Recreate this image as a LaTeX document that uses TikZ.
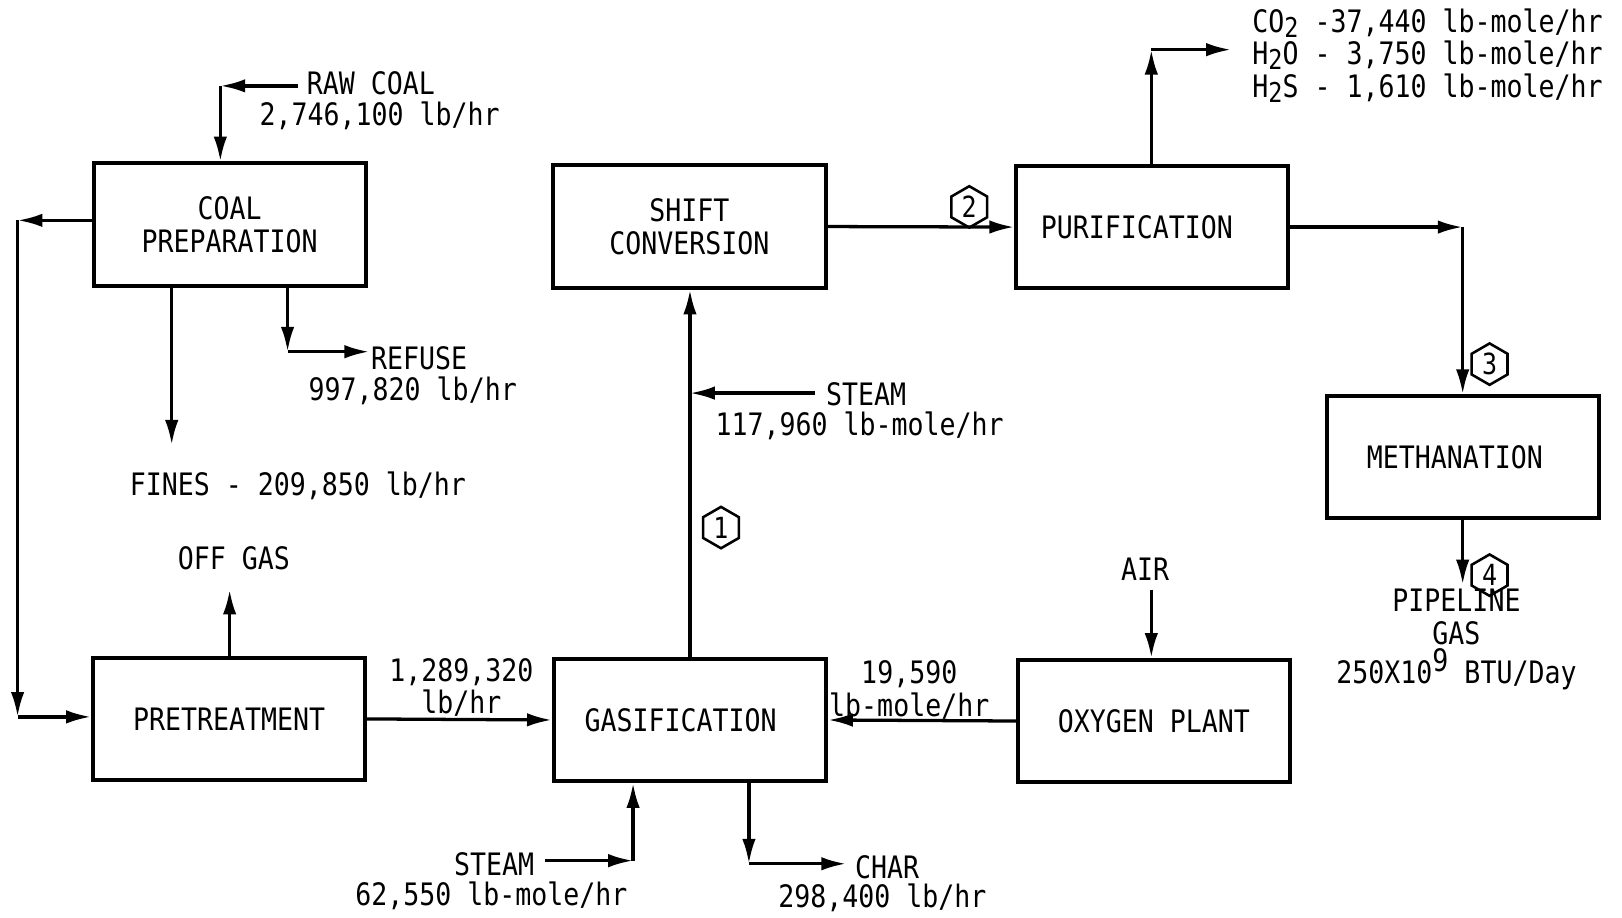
\documentclass[tikz,border=0pt]{standalone}
\usepackage{fontspec}
\usepackage{tikz}
\usetikzlibrary{arrows.meta, positioning, shapes.geometric}
\newfontfamily\lettering{DejaVu Sans Mono}[FakeStretch=0.86]
\newcommand{\lowtwo}{\raisebox{-0.3ex}{\fontsize{7.5}{8}\selectfont 2}}
\newcommand{\upnine}{\raisebox{0.7ex}{9}}

\begin{document}
\begin{tikzpicture}[
    x=0.01cm, y=-0.01cm,
    unit/.style={draw, line width=1.1pt, minimum width=2.63cm, minimum height=1.18cm, inner sep=0pt, align=center, font=\lettering\fontsize{8.5}{9}\selectfont},
    flow/.style={-{Latex[length=2.4mm, width=1.3mm]}, line width=0.9pt},
    streamno/.style={draw, line width=0.7pt, regular polygon, regular polygon sides=6, shape border rotate=30, minimum size=0.4cm, inner sep=0pt, font=\lettering\fontsize{8}{9}\selectfont},
    tag/.style={inner sep=0pt, align=center, font=\lettering\fontsize{8.5}{9}\selectfont},
]
\useasboundingbox (0,0) rectangle (1568,887);

% Process units
\node[unit] (prep)   at (222,217)    {COAL\\PREPARATION};
\node[unit] (shift)  at (666.5,219)  {SHIFT\\CONVERSION};
\node[unit] (purif)  at (1114,219.5) {PURIFICATION\hspace*{0.3cm}};
\node[unit] (meth)   at (1414,442)   {METHANATION\hspace*{0.15cm}};
\node[unit] (pret)   at (221.5,695)  {PRETREATMENT};
\node[unit] (gasif)  at (667,696)    {GASIFICATION\hspace*{0.18cm}};
\node[unit] (oxy)    at (1115.5,697) {OXYGEN PLANT};

% Bend and end points
\coordinate (rawS)  at (288,83);
\coordinate (rawK)  at (213,83);
\coordinate (loopT) at (17,213);
\coordinate (loopB) at (17,693);
\coordinate (finE)  at (166,430);
\coordinate (refK)  at (278,340);
\coordinate (refE)  at (357,340);
\coordinate (offE)  at (222,570);
\coordinate (stmS)  at (788,380);
\coordinate (stbS)  at (527,832);
\coordinate (stbK)  at (612,832);
\coordinate (chrK)  at (724,835);
\coordinate (chrE)  at (818,835);
\coordinate (airS)  at (1113,570);
\coordinate (ventK) at (1113,48);
\coordinate (ventE) at (1190,48);
\coordinate (purK)  at (1414,219.5);
\coordinate (pipeE) at (1414,565);

% Coal preparation
\draw[flow] (rawS) -- (rawK);
\draw[flow] (rawK) -- (rawK |- prep.north);
\draw[flow] (prep.west |- loopT) -- (loopT);
\draw[flow] (loopT) -- (loopB);
\draw[flow] (loopB) -- (loopB -| pret.west);
\draw[flow] (prep.south -| finE) -- (finE);
\draw[flow] (prep.south -| refK) -- (refK);
\draw[flow] (refK) -- (refE);

\node[tag, anchor=west] (rawl) at (296,80) {RAW COAL};
\node[tag] (rawr) at (367,112) {2,746,100 lb/hr};
\node[tag, anchor=west] (refl) at (358,346) {REFUSE};
\node[tag] (refr) at (399,378) {997,820 lb/hr};
\node[tag] (finl) at (288,470) {FINES - 209,850 lb/hr};

% Pretreatment and gasification
\draw[flow] (pret.north -| offE) -- (offE);
\node[tag] (offl) at (226,540) {OFF GAS};
\draw[flow] (pret.east) -- (gasif.west);
\node[tag] (pretr) at (446,664.5) {1,289,320\\lb/hr};
\draw[flow] (oxy.west) -- (gasif.east);
\node[tag] (oxyr) at (879,667) {19,590\\lb-mole/hr};
\draw[flow] (airS) -- (airS |- oxy.north);
\node[tag] (airl) at (1107,550) {AIR};
\draw[flow] (stbS) -- (stbK);
\draw[flow] (stbK) -- (stbK |- gasif.south);
\node[tag, anchor=east] (stbl) at (517,835) {STEAM};
\node[tag] (stbr) at (475,866) {62,550 lb-mole/hr};
\draw[flow] (gasif.south -| chrK) -- (chrK);
\draw[flow] (chrK) -- (chrE);
\node[tag, anchor=west] (chrl) at (826,838) {CHAR};
\node[tag] (chrr) at (853,868) {298,400 lb/hr};

% Shift, purification, methanation
\draw[flow] (gasif.north) -- (gasif.north |- shift.south);
\node[streamno] (s1) at (697,510) {1};
\draw[flow] (stmS) -- (stmS -| gasif.north);
\node[tag, anchor=west] (stml) at (798,381) {STEAM};
\node[tag] (stmr) at (831,412) {117,960 lb-mole/hr};
\draw[flow] (shift.east) -- (purif.west);
\node[streamno] (s2) at (937,200) {2};
\draw[flow] (purif.north -| ventK) -- (ventK);
\draw[flow] (ventK) -- (ventE);
\node[tag, anchor=west] (co2l) at (1210,22) {CO\lowtwo{} -37,440 lb-mole/hr};
\node[tag, anchor=west] (h2ol) at (1210,53) {H\lowtwo{}O - 3,750 lb-mole/hr};
\node[tag, anchor=west] (h2sl) at (1210,85) {H\lowtwo{}S - 1,610 lb-mole/hr};
\draw[flow] (purif.east) -- (purK);
\draw[flow] (purK) -- (meth.north);
\node[streamno] (s3) at (1440,352) {3};
\draw[flow] (meth.south) -- (pipeE);
\node[streamno] (s4) at (1440,556) {4};
\node[tag] (pipel) at (1408,618) {PIPELINE\\GAS\\250X10\upnine{} BTU/Day};

\end{tikzpicture}
\end{document}
